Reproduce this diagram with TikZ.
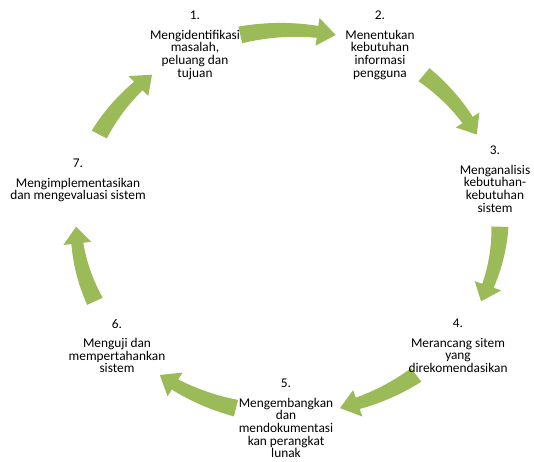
\documentclass[tikz,border=0pt]{standalone}
\usepackage{fontspec}
\setmainfont{Carlito}
\definecolor{arrowgreen}{HTML}{9BBB59}
\newcommand\cycarrow[3]{%
  \fill[cyc] plot[domain=#1:#2, samples=30]
      ({\cx+(\rx+8.5-2.5*(#1-\x)/(#1-#2))*cos(\x)},{\cy+(\ry+8.5-2.5*(#1-\x)/(#1-#2))*sin(\x)})
    -- ({\cx+(\rx+14)*cos(#2)},{\cy+(\ry+14)*sin(#2)})
    -- ({\cx+\rx*cos(#3)},{\cy+\ry*sin(#3)})
    -- ({\cx+(\rx-14)*cos(#2)},{\cy+(\ry-14)*sin(#2)})
    -- plot[domain=#2:#1, samples=30]
      ({\cx+(\rx-8.5+2.5*(#1-\x)/(#1-#2))*cos(\x)},{\cy+(\ry-8.5+2.5*(#1-\x)/(#1-#2))*sin(\x)})
    -- cycle;}
\begin{document}
\begin{tikzpicture}[x=0.75pt,y=0.75pt,
  lbl/.style={align=center, inner sep=0pt, anchor=north, text=black,
    font=\fontsize{10}{9.5}\selectfont},
  cyc/.style={fill=arrowgreen, draw=none}]
\useasboundingbox (0,0) rectangle (534,461);
\def\cx{288}\def\cy{239}\def\rx{212}\def\ry{192}
% arrows: tail angle, head base angle, tip angle
\cycarrow{103}{82}{77}
\cycarrow{50.1}{32.1}{27.1}
\cycarrow{-1.4}{-19.4}{-24.4}
\cycarrow{-52.8}{-70.8}{-75.8}
\cycarrow{-104.2}{-122.2}{-127.2}
\cycarrow{-155.6}{-173.6}{-178.6}
\cycarrow{152.9}{134.9}{129.9}
% labels
\node[lbl] (n1) at (195,450) {1.\\[5pt]Mengidentifikasi\\masalah,\\peluang dan\\tujuan};
\node[lbl] (n2) at (380,450) {2.\\[5pt]Menentukan\\kebutuhan\\informasi\\pengguna};
\node[lbl] (n3) at (495,315) {3.\\[5pt]Menganalisis\\kebutuhan-\\kebutuhan\\sistem};
\node[lbl] (n4) at (458,142) {4.\\[5pt]Merancang sitem\\yang\\direkomendasikan};
\node[lbl] (n5) at (286,82) {5.\\[5pt]Mengembangkan\\dan\\mendokumentasi\\kan perangkat\\lunak};
\node[lbl] (n6) at (117,142) {6.\\[5pt]Menguji dan\\mempertahankan\\sistem};
\node[lbl] (n7) at (78,302) {7.\\[5pt]Mengimplementasikan\\dan mengevaluasi sistem};
\end{tikzpicture}
\end{document}
